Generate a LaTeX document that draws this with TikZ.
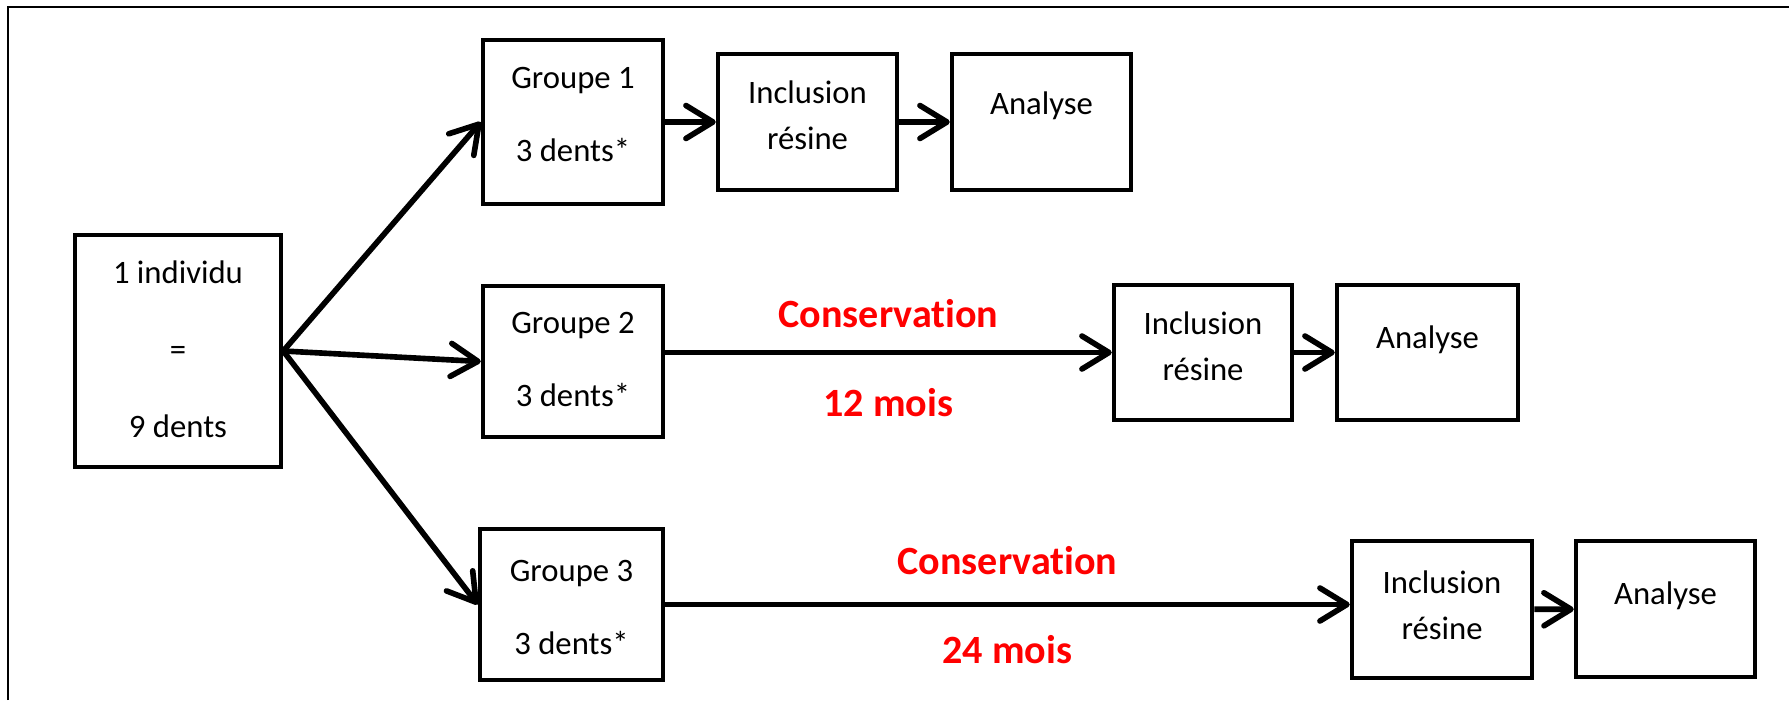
\documentclass[tikz,border=0pt]{standalone}
\usepackage{fontspec}
\setmainfont{Carlito}[Ligatures=NoCommon]
\usetikzlibrary{arrows.meta}

\tikzset{
  etape/.style={draw, line width=1.25pt, inner sep=0pt},
  texte/.style={anchor=north, inner sep=0pt, align=center,
    font=\fontsize{9.3}{11.2}\selectfont},
  fleche/.style={line width=1.6pt,
    -{Straight Barb[length=2.7mm, width=3.3mm, line join=round, line cap=round]}},
  duree/.style={inner sep=0pt, text=red, font=\fontsize{11.4}{13.7}\selectfont\bfseries},
}

\begin{document}
\begin{tikzpicture}[x=0.01cm, y=-0.01cm]
\useasboundingbox (0,0) rectangle (1789,700);
\draw[line width=0.6pt] (8,700) |- (1789,7);

% depart
\node[etape, minimum width=2.06cm, minimum height=2.32cm,
  label={[texte, yshift=-0.27cm]90:{1 individu\\[0.38cm]=\\[0.38cm]9 dents}}] (indiv) at (178,351) {};

% les trois groupes
\node[etape, minimum width=1.80cm, minimum height=1.64cm,
  label={[texte, yshift=-0.29cm]90:{Groupe 1\\[0.33cm]3 dents*}}] (grp1) at (573,122) {};
\node[etape, minimum width=1.80cm, minimum height=1.51cm,
  label={[texte, yshift=-0.28cm]90:{Groupe 2\\[0.33cm]3 dents*}}] (grp2) at (573,361.5) {};
\node[etape, minimum width=1.83cm, minimum height=1.51cm,
  label={[texte, yshift=-0.33cm]90:{Groupe 3\\[0.33cm]3 dents*}}] (grp3) at (571.5,604.5) {};

% inclusion et analyse
\node[etape, minimum width=1.79cm, minimum height=1.36cm,
  label={[texte, yshift=-0.28cm]90:{Inclusion\\[0.07cm]résine}}] (incl1) at (807.5,122) {};
\node[etape, minimum width=1.79cm, minimum height=1.36cm,
  label={[texte, yshift=-0.39cm]90:{Analyse}}] (anal1) at (1041.5,122) {};

\node[etape, minimum width=1.78cm, minimum height=1.35cm,
  label={[texte, yshift=-0.28cm]90:{Inclusion\\[0.07cm]résine}}] (incl2) at (1203,352.5) {};
\node[etape, minimum width=1.81cm, minimum height=1.35cm,
  label={[texte, yshift=-0.42cm]90:{Analyse}}] (anal2) at (1427.5,352.5) {};

\node[etape, minimum width=1.80cm, minimum height=1.37cm,
  label={[texte, yshift=-0.31cm]90:{Inclusion\\[0.07cm]résine}}] (incl3) at (1442,609.5) {};
\node[etape, minimum width=1.79cm, minimum height=1.36cm,
  label={[texte, yshift=-0.42cm]90:{Analyse}}] (anal3) at (1665.5,609) {};

% fleches
\draw[fleche] (indiv.east) -- (grp1.west);
\draw[fleche] (indiv.east) -- (grp2.west);
\draw[fleche] (indiv.east) -- (grp3.west);

\draw[fleche] (grp1) -- (incl1);
\draw[fleche] (incl1) -- (anal1);

\draw[fleche] (grp2.east |- incl2.west) -- (incl2.west)
  node[duree, midway, above=0.22cm] {Conservation}
  node[duree, midway, below=0.33cm] {12 mois};
\draw[fleche] (incl2) -- (anal2);

\draw[fleche] (grp3.east) -- (grp3.east -| incl3.west)
  node[duree, midway, above=0.27cm] {Conservation}
  node[duree, midway, below=0.28cm] {24 mois};
\draw[fleche] (incl3) -- (anal3);
\end{tikzpicture}
\end{document}
